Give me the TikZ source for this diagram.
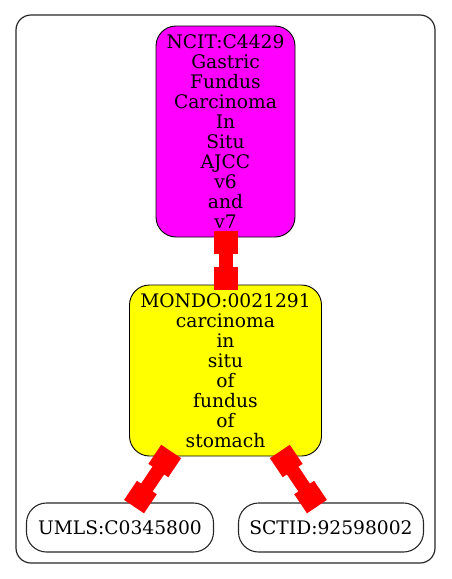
\documentclass[tikz,border=0pt]{standalone}
\usepackage{fontspec}
\setmainfont{DejaVu Serif}
\usepackage{xcolor}
\usepackage{tikz}
\usetikzlibrary{positioning}
\usetikzlibrary{arrows.meta}

\definecolor{ncit magenta}{RGB}{255,0,255}
\definecolor{mondo yellow}{RGB}{255,255,0}
\definecolor{frame gray}{RGB}{40,40,40}

\begin{document}
\begin{tikzpicture}[x=1pt, y=1pt, node distance=50pt,
  every text node part/.style={align=center},
  term/.style={draw, line width=0.9pt, rounded corners=20pt, inner sep=0pt, font=\fontsize{18.67}{20}\selectfont},
  xref/.style={term, draw=frame gray, line width=1.1pt, minimum height=49pt},
  tee/.style={draw=red, line width=14pt, {Rectangle[length=23pt,width=24pt]}-{Rectangle[length=23pt,width=24pt]}, shorten <=-6pt, shorten >=-5pt}]

\useasboundingbox (0,0) rectangle (451,-579);
\draw [frame gray, line width=1.2pt, rounded corners=15pt] (16,-15) rectangle (435,-563);

\node (ncit term) [term, fill=ncit magenta, minimum width=139pt, minimum height=211pt] at (225.5,-131.5) {NCIT:C4429\\Gastric\\Fundus\\Carcinoma\\In\\Situ\\AJCC\\v6\\and\\v7};
\node (mondo term) [term, fill=mondo yellow, minimum width=192pt, minimum height=171pt, node distance=239pt, below of=ncit term] {MONDO:0021291\\carcinoma\\in\\situ\\of\\fundus\\of\\stomach};
\node (umls term) [xref, minimum width=187pt, node distance=157pt, below of=mondo term, xshift=-105.5pt] {UMLS:C0345800};
\node (sctid term) [xref, minimum width=185pt, node distance=157pt, below of=mondo term, xshift=105.5pt] {SCTID:92598002};

\draw [tee] (ncit term) -- (mondo term);
\draw [tee] (mondo term) -- (umls term);
\draw [tee] (mondo term) -- (sctid term);

\end{tikzpicture}
\end{document}
